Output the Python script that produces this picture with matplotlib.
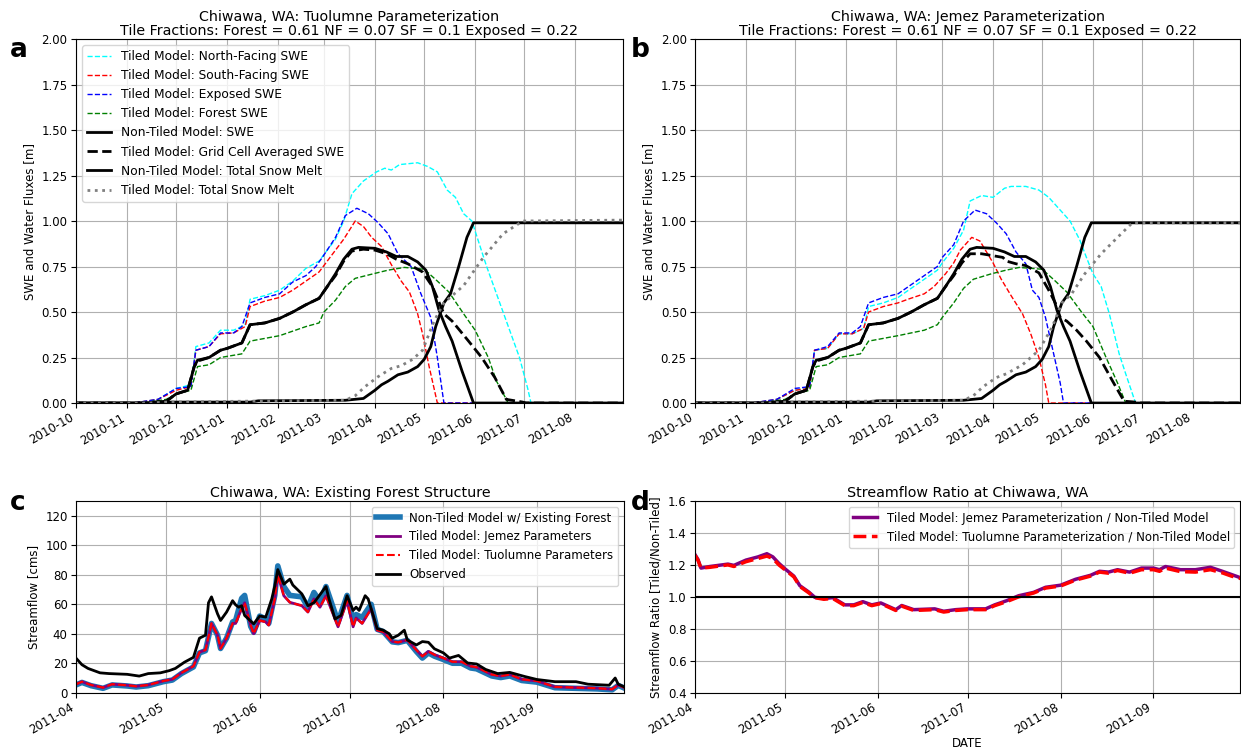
import numpy as np
import pandas as pd
import matplotlib
matplotlib.use('Agg')
import matplotlib.pyplot as plt
import matplotlib.dates as mdates

#Helper: turn 'YYYY-MM-DD' lists into datetimes
def d(lst):
    return pd.to_datetime(lst)

#2011 month-day strings -> dates
def d11(lst):
    return pd.to_datetime(['2011-' + s for s in lst])

# ---------------- Panel a: Tuolumne parameterization ----------------
nf_a_t = ['2010-10-01','2010-11-05','2010-11-20','2010-12-01','2010-12-10','2010-12-13','2010-12-21',
          '2010-12-28','2011-01-05','2011-01-12','2011-01-15','2011-01-24','2011-02-02','2011-02-10',
          '2011-02-18','2011-02-26','2011-03-03','2011-03-08','2011-03-13','2011-03-18','2011-03-25',
          '2011-04-02','2011-04-07','2011-04-11','2011-04-16','2011-04-27','2011-05-03','2011-05-09',
          '2011-05-15','2011-05-20','2011-05-25','2011-05-30','2011-06-08','2011-06-18','2011-06-28',
          '2011-07-03','2011-07-05','2011-08-31']
nf_a = [0, 0, 0.02, 0.08, 0.10, 0.31, 0.33, 0.40, 0.40, 0.43, 0.57, 0.59, 0.62, 0.67, 0.74, 0.78,
        0.84, 0.90, 1.00, 1.15, 1.22, 1.27, 1.29, 1.28, 1.31, 1.32, 1.30, 1.27, 1.17, 1.13, 1.04,
        1.00, 0.75, 0.50, 0.25, 0.08, 0, 0]

sf_a_t = ['2010-10-01','2010-11-05','2010-11-20','2010-12-01','2010-12-10','2010-12-13','2010-12-21',
          '2010-12-28','2011-01-05','2011-01-12','2011-01-15','2011-01-24','2011-02-02','2011-02-10',
          '2011-02-18','2011-02-26','2011-03-03','2011-03-08','2011-03-13','2011-03-20','2011-03-25',
          '2011-03-30','2011-04-05','2011-04-11','2011-04-17','2011-04-22','2011-04-27','2011-04-30',
          '2011-05-04','2011-05-09','2011-08-31']
sf_a = [0, 0, 0.02, 0.07, 0.09, 0.29, 0.31, 0.38, 0.385, 0.42, 0.53, 0.56, 0.58, 0.62, 0.67, 0.72,
        0.78, 0.84, 0.90, 1.00, 0.97, 0.91, 0.86, 0.76, 0.67, 0.61, 0.49, 0.38, 0.20, 0, 0]

ex_a_t = ['2010-10-01','2010-11-05','2010-11-20','2010-12-01','2010-12-10','2010-12-13','2010-12-21',
          '2010-12-28','2011-01-05','2011-01-10','2011-01-15','2011-01-24','2011-02-02','2011-02-10',
          '2011-02-18','2011-02-24','2011-02-28','2011-03-08','2011-03-14','2011-03-21','2011-03-28',
          '2011-04-03','2011-04-09','2011-04-15','2011-04-23','2011-04-29','2011-05-05','2011-05-09',
          '2011-05-13','2011-08-31']
ex_a = [0, 0, 0.02, 0.08, 0.09, 0.29, 0.31, 0.385, 0.385, 0.42, 0.55, 0.58, 0.60, 0.665, 0.70, 0.75,
        0.80, 0.91, 1.03, 1.07, 1.04, 0.99, 0.93, 0.82, 0.75, 0.60, 0.47, 0.25, 0, 0]

fo_a_t = ['2010-10-01','2010-11-10','2010-11-25','2010-12-01','2010-12-10','2010-12-14','2010-12-21',
          '2010-12-28','2011-01-10','2011-01-15','2011-02-02','2011-02-18','2011-02-26','2011-03-01',
          '2011-03-08','2011-03-14','2011-03-20','2011-03-31','2011-04-09','2011-04-19','2011-05-01',
          '2011-05-09','2011-05-16','2011-05-25','2011-06-01','2011-06-09','2011-06-14','2011-06-20',
          '2011-06-21','2011-08-31']
fo_a = [0, 0, 0.02, 0.05, 0.07, 0.20, 0.21, 0.25, 0.27, 0.34, 0.37, 0.42, 0.44, 0.50, 0.565, 0.64,
        0.685, 0.71, 0.73, 0.745, 0.735, 0.67, 0.61, 0.49, 0.40, 0.25, 0.12, 0.02, 0, 0]

avg_a_t = ['2010-10-01','2010-11-12','2010-11-25','2010-12-01','2010-12-08','2010-12-12','2010-12-14',
           '2010-12-21','2010-12-28','2011-01-01','2011-01-10','2011-01-15','2011-01-24','2011-02-02',
           '2011-02-10','2011-02-18','2011-02-26','2011-03-03','2011-03-08','2011-03-13','2011-03-18',
           '2011-03-25','2011-04-01','2011-04-08','2011-04-14','2011-04-21','2011-04-30','2011-05-06',
           '2011-05-13','2011-05-18','2011-05-28','2011-06-05','2011-06-13','2011-06-20','2011-06-30',
           '2011-07-02','2011-08-31']
avg_a = [0, 0, 0.01, 0.05, 0.07, 0.20, 0.23, 0.25, 0.29, 0.30, 0.33, 0.43, 0.44, 0.465, 0.50, 0.54,
         0.575, 0.64, 0.70, 0.78, 0.835, 0.845, 0.84, 0.82, 0.79, 0.765, 0.72, 0.64, 0.49, 0.45,
         0.34, 0.25, 0.14, 0.02, 0.005, 0, 0]

melt_tiled_a_t = ['2010-10-01','2010-11-15','2010-11-25','2011-02-01','2011-03-14','2011-03-20',
                  '2011-03-26','2011-04-03','2011-04-11','2011-04-17','2011-04-24','2011-04-30',
                  '2011-05-07','2011-05-13','2011-05-25','2011-06-06','2011-06-18','2011-06-30',
                  '2011-08-31']
melt_tiled_a = [0, 0, 0.005, 0.012, 0.015, 0.04, 0.09, 0.145, 0.19, 0.205, 0.24, 0.29, 0.45, 0.55,
                0.645, 0.80, 0.93, 1.0, 1.005]

# ---------------- Panel b: Jemez parameterization ----------------
nf_b_t = ['2010-10-01','2010-11-05','2010-11-20','2010-12-01','2010-12-10','2010-12-13','2010-12-21',
          '2010-12-28','2011-01-05','2011-01-12','2011-01-15','2011-01-24','2011-02-02','2011-02-10',
          '2011-02-18','2011-02-26','2011-03-01','2011-03-08','2011-03-14','2011-03-18','2011-03-25',
          '2011-04-01','2011-04-08','2011-04-12','2011-04-21','2011-04-29','2011-05-05','2011-05-12',
          '2011-05-18','2011-05-24','2011-05-28','2011-06-01','2011-06-06','2011-06-11','2011-06-17',
          '2011-06-21','2011-06-27','2011-08-31']
nf_b = [0, 0, 0.02, 0.07, 0.09, 0.29, 0.30, 0.38, 0.38, 0.41, 0.53, 0.55, 0.58, 0.63, 0.68, 0.73,
        0.77, 0.85, 0.95, 1.11, 1.14, 1.13, 1.18, 1.19, 1.19, 1.17, 1.13, 1.06, 1.00, 0.895, 0.80,
        0.71, 0.64, 0.49, 0.27, 0.16, 0, 0]

sf_b_t = ['2010-10-01','2010-11-05','2010-11-20','2010-12-01','2010-12-10','2010-12-13','2010-12-21',
          '2010-12-28','2011-01-05','2011-01-12','2011-01-15','2011-01-24','2011-02-02','2011-02-08',
          '2011-02-18','2011-02-24','2011-03-03','2011-03-08','2011-03-12','2011-03-19','2011-03-24',
          '2011-04-01','2011-04-06','2011-04-12','2011-04-19','2011-04-24','2011-04-29','2011-05-03',
          '2011-05-05','2011-08-31']
sf_b = [0, 0, 0.02, 0.07, 0.08, 0.29, 0.30, 0.38, 0.38, 0.41, 0.50, 0.53, 0.55, 0.57, 0.60, 0.64,
        0.71, 0.77, 0.84, 0.91, 0.89, 0.77, 0.68, 0.59, 0.49, 0.38, 0.25, 0.10, 0, 0]

ex_b_t = ['2010-10-01','2010-11-05','2010-11-20','2010-12-01','2010-12-10','2010-12-13','2010-12-21',
          '2010-12-28','2011-01-05','2011-01-10','2011-01-15','2011-01-24','2011-02-02','2011-02-10',
          '2011-02-18','2011-02-26','2011-03-01','2011-03-08','2011-03-14','2011-03-21','2011-03-28',
          '2011-04-03','2011-04-09','2011-04-15','2011-04-21','2011-04-25','2011-04-29','2011-05-03',
          '2011-05-08','2011-05-12','2011-05-14','2011-08-31']
ex_b = [0, 0, 0.02, 0.08, 0.09, 0.29, 0.31, 0.385, 0.385, 0.42, 0.55, 0.58, 0.60, 0.65, 0.70, 0.75,
        0.80, 0.87, 1.00, 1.06, 1.04, 0.99, 0.93, 0.83, 0.765, 0.62, 0.58, 0.47, 0.27, 0.11, 0, 0]

fo_b_t = ['2010-10-01','2010-11-10','2010-11-25','2010-12-01','2010-12-10','2010-12-14','2010-12-21',
          '2010-12-28','2011-01-10','2011-01-15','2011-02-02','2011-02-18','2011-02-26','2011-03-01',
          '2011-03-08','2011-03-14','2011-03-20','2011-03-31','2011-04-09','2011-04-17','2011-05-01',
          '2011-05-09','2011-05-16','2011-05-25','2011-06-01','2011-06-09','2011-06-16','2011-06-21',
          '2011-08-31']
fo_b = [0, 0, 0.02, 0.05, 0.07, 0.20, 0.21, 0.25, 0.27, 0.34, 0.37, 0.40, 0.43, 0.47, 0.55, 0.63,
        0.68, 0.71, 0.73, 0.745, 0.735, 0.67, 0.61, 0.50, 0.42, 0.25, 0.11, 0, 0]

avg_b_t = ['2010-10-01','2010-11-12','2010-11-25','2010-12-01','2010-12-08','2010-12-12','2010-12-14',
           '2010-12-21','2010-12-28','2011-01-01','2011-01-10','2011-01-15','2011-01-24','2011-02-02',
           '2011-02-10','2011-02-18','2011-02-26','2011-03-03','2011-03-08','2011-03-13','2011-03-18',
           '2011-03-25','2011-04-07','2011-04-09','2011-04-15','2011-04-21','2011-04-29','2011-05-05',
           '2011-05-09','2011-05-12','2011-05-16','2011-05-22','2011-05-28','2011-06-05','2011-06-13',
           '2011-06-20','2011-06-27','2011-06-29','2011-08-31']
avg_b = [0, 0, 0.01, 0.05, 0.07, 0.20, 0.23, 0.25, 0.29, 0.30, 0.33, 0.43, 0.44, 0.465, 0.50, 0.54,
         0.575, 0.64, 0.70, 0.77, 0.82, 0.82, 0.80, 0.78, 0.765, 0.755, 0.715, 0.62, 0.55, 0.47,
         0.45, 0.40, 0.34, 0.25, 0.12, 0.01, 0.005, 0, 0]

melt_tiled_b_t = ['2010-10-01','2010-11-15','2010-11-25','2011-02-01','2011-03-14','2011-03-20',
                  '2011-03-26','2011-04-03','2011-04-09','2011-04-19','2011-04-29','2011-05-07',
                  '2011-05-13','2011-05-19','2011-05-27','2011-06-06','2011-06-16','2011-06-25',
                  '2011-08-31']
melt_tiled_b = [0, 0, 0.005, 0.012, 0.015, 0.04, 0.09, 0.14, 0.16, 0.21, 0.29, 0.415, 0.55, 0.60,
                0.71, 0.82, 0.91, 0.99, 0.99]

# ---------------- Non-tiled model (same in a and b) ----------------
swe_nt_t = ['2010-10-01','2010-11-12','2010-11-25','2010-12-01','2010-12-08','2010-12-12','2010-12-14',
            '2010-12-21','2010-12-28','2011-01-01','2011-01-10','2011-01-15','2011-01-24','2011-02-02',
            '2011-02-10','2011-02-18','2011-02-26','2011-03-03','2011-03-08','2011-03-13','2011-03-18',
            '2011-03-22','2011-04-01','2011-04-08','2011-04-14','2011-04-21','2011-04-27','2011-05-02',
            '2011-05-06','2011-05-10','2011-05-14','2011-05-18','2011-05-24','2011-05-31','2011-08-31']
swe_nt = [0, 0, 0.01, 0.05, 0.07, 0.20, 0.235, 0.25, 0.29, 0.30, 0.33, 0.43, 0.44, 0.465, 0.50, 0.54,
          0.575, 0.64, 0.71, 0.79, 0.845, 0.855, 0.85, 0.83, 0.805, 0.805, 0.775, 0.73, 0.64, 0.51,
          0.42, 0.34, 0.176, 0, 0]

melt_nt_t = ['2010-10-01','2010-11-15','2010-11-25','2011-01-15','2011-01-20','2011-03-14','2011-03-25',
             '2011-04-01','2011-04-05','2011-04-09','2011-04-15','2011-04-21','2011-04-27','2011-05-01',
             '2011-05-05','2011-05-08','2011-05-13','2011-05-17','2011-05-22','2011-05-27','2011-05-31',
             '2011-08-31']
melt_nt = [0, 0, 0.005, 0.005, 0.012, 0.015, 0.025, 0.07, 0.10, 0.12, 0.155, 0.17, 0.20, 0.24, 0.31,
           0.42, 0.55, 0.60, 0.75, 0.91, 0.99, 0.99]

# ---------------- Panel c: streamflow [cms] ----------------
obs_t = ['04-01','04-03','04-05','04-09','04-12','04-18','04-22','04-25','04-29','05-02','05-04',
         '05-07','05-10','05-12','05-14','05-15','05-16','05-18','05-19','05-21','05-23','05-24',
         '05-25','05-26','05-27','05-30','06-01','06-03','06-05','06-06','06-07','06-09','06-11',
         '06-12','06-15','06-17','06-19','06-23','06-24','06-26','06-28','06-30','07-02','07-03',
         '07-04','07-06','07-07','07-10','07-12','07-14','07-15','07-17','07-19','07-20','07-23',
         '07-25','07-27','07-29','08-01','08-03','08-06','08-09','08-12','08-15','08-19','08-23',
         '08-28','09-01','09-07','09-14','09-18','09-25','09-27','09-28','09-30']
obs_q = [23.5, 19, 16.5, 13.5, 13, 12.5, 11.3, 13, 13.5, 15, 16.5, 20.7, 24, 37, 39, 61, 65, 53.5, 49,
         54.7, 62.4, 59.6, 58, 59, 52.4, 46.7, 52, 51.3, 63.6, 72.4, 83.5, 73.6, 77, 73, 67, 59, 61,
         72, 63.6, 50, 52.4, 65.8, 55.8, 58, 55.8, 65.8, 63.6, 43.5, 42.4, 40, 37, 39, 42.4, 35.8,
         32.4, 34.7, 34.2, 29.8, 27, 23.5, 25.3, 20.2, 19.5, 15.8, 13, 13.8, 11, 9, 7.5, 7.5, 5.8,
         5.1, 10, 5.8, 4]

mod_t = ['04-01','04-03','04-06','04-10','04-13','04-18','04-21','04-25','04-30','05-03','05-06',
         '05-10','05-12','05-14','05-16','05-18','05-19','05-21','05-23','05-24','05-26','05-27',
         '05-29','05-30','06-01','06-03','06-04','06-06','06-07','06-09','06-11','06-15','06-17',
         '06-19','06-21','06-23','06-27','06-30','07-02','07-03','07-05','07-08','07-10','07-12',
         '07-15','07-17','07-20','07-23','07-25','07-27','07-29','08-01','08-04','08-07','08-10',
         '08-12','08-17','08-20','08-23','08-27','09-01','09-07','09-14','09-21','09-26','09-28',
         '09-30']
nontiled_q = [5.3, 7, 4.8, 3, 5.3, 4.6, 3.9, 4.8, 7.5, 8.6, 13, 17.5, 27, 28.5, 47, 39, 30, 37, 48,
              49, 64, 66, 45, 41, 52, 50, 47, 66, 86, 72, 66, 65, 58, 68, 62, 72, 48, 66, 49, 53,
              51, 60, 43, 41.5, 34.5, 34, 35.5, 28, 23.5, 27, 24.8, 22.5, 20, 20, 16.8, 16.2, 11.4,
              10.3, 11.4, 8.3, 7.2, 3.4, 3, 2.6, 2, 5, 3.2]
jemez_q = [5.8, 7.5, 5.3, 3.5, 5.8, 5.1, 4.4, 5.3, 8, 9.1, 13.5, 18, 27.5, 29, 47, 39, 30, 37, 47, 47,
           57, 61, 45.8, 40, 49, 48, 45.8, 63.6, 80, 65.8, 61.3, 59, 54.7, 63.6, 58, 65.8, 44.7,
           62.4, 44.7, 50.7, 47, 57, 42.4, 41.3, 34.7, 34.2, 35.8, 29, 24.7, 28, 25.8, 23.5, 21,
           21, 18, 17.3, 12.4, 11.3, 12.4, 9.1, 8, 4, 3.5, 3.1, 2.4, 5.3, 3.5]
tuolumne_q = [5.8, 7.5, 5.3, 3.5, 5.8, 5.1, 4.4, 5.3, 8, 9.1, 13.5, 18, 27.5, 29, 47, 39, 30, 37, 47, 47,
              57, 61, 45.8, 40, 49, 48, 45.8, 63.6, 80, 65.8, 61.3, 59, 54.7, 63.6, 58, 65.8, 44.7,
              62.4, 44.7, 50.7, 47, 57, 42.4, 41.3, 34.7, 34.2, 35.8, 29, 24.7, 28, 25.8, 23.5, 21,
              21, 18, 17.3, 12.4, 11.3, 12.4, 9.1, 8, 4, 3.5, 3.1, 2.4, 5.3, 3.5]

# ---------------- Panel d: streamflow ratio ----------------
ratio_t = ['04-01','04-02','04-03','04-06','04-10','04-12','04-14','04-18','04-22','04-25','04-27',
           '04-29','05-01','05-04','05-06','05-09','05-11','05-14','05-17','05-21','05-24','05-27',
           '05-30','06-02','06-07','06-09','06-13','06-20','06-23','06-27','07-01','07-07','07-10',
           '07-14','07-18','07-23','07-27','08-01','08-06','08-11','08-14','08-17','08-20','08-24',
           '08-28','09-01','09-03','09-05','09-10','09-15','09-20','09-24','09-27','09-30']
ratio_jemez = [1.265, 1.234, 1.18, 1.19, 1.20, 1.205, 1.197, 1.23, 1.25, 1.27, 1.25, 1.21, 1.176,
               1.13, 1.07, 1.03, 0.997, 0.99, 0.995, 0.95, 0.95, 0.97, 0.95, 0.962, 0.92, 0.946,
               0.92, 0.925, 0.91, 0.92, 0.925, 0.925, 0.95, 0.976, 1.007, 1.028, 1.06, 1.073, 1.11,
               1.135, 1.16, 1.155, 1.17, 1.155, 1.18, 1.18, 1.17, 1.19, 1.17, 1.17, 1.185, 1.16,
               1.14, 1.12]
ratio_tuol = [1.26, 1.23, 1.18, 1.185, 1.195, 1.20, 1.19, 1.22, 1.24, 1.255, 1.24, 1.20, 1.17,
              1.125, 1.065, 1.025, 0.995, 0.985, 0.99, 0.945, 0.945, 0.965, 0.945, 0.958, 0.915,
              0.942, 0.915, 0.92, 0.905, 0.915, 0.92, 0.92, 0.945, 0.97, 1.0, 1.024, 1.055, 1.068,
              1.105, 1.13, 1.155, 1.148, 1.165, 1.148, 1.17, 1.17, 1.16, 1.18, 1.158, 1.155, 1.17,
              1.15, 1.13, 1.115]

# ---------------- Figure ----------------
plt.rcParams['font.family'] = 'DejaVu Sans'
fig = plt.figure(figsize=(12.41, 7.53), dpi=100)
ax_a = fig.add_axes([0.0612, 0.4648, 0.4408, 0.4834])
ax_b = fig.add_axes([0.5600, 0.4648, 0.4395, 0.4834])
ax_c = fig.add_axes([0.0612, 0.0800, 0.4418, 0.2547])
ax_d = fig.add_axes([0.5600, 0.0800, 0.4395, 0.2547])

def swe_panel(ax, nf, sf, ex, fo, avg, melt_t, title):
    ax.plot(d(nf[0]), nf[1], '--', color='cyan', lw=1, label='Tiled Model: North-Facing SWE')
    ax.plot(d(sf[0]), sf[1], '--', color='red', lw=1, label='Tiled Model: South-Facing SWE')
    ax.plot(d(ex[0]), ex[1], '--', color='blue', lw=1, label='Tiled Model: Exposed SWE')
    ax.plot(d(fo[0]), fo[1], '--', color='green', lw=1, label='Tiled Model: Forest SWE')
    ax.plot(d(swe_nt_t), swe_nt, '-', color='k', lw=2, label='Non-Tiled Model: SWE')
    ax.plot(d(avg[0]), avg[1], '--', color='k', lw=2, label='Tiled Model: Grid Cell Averaged SWE')
    ax.plot(d(melt_nt_t), melt_nt, '-', color='k', lw=2, label='Non-Tiled Model: Total Snow Melt')
    ax.plot(d(melt_t[0]), melt_t[1], ':', color='gray', lw=2, label='Tiled Model: Total Snow Melt')
    ax.set_xlim(pd.Timestamp('2010-10-01'), pd.Timestamp('2011-08-30'))
    ax.set_ylim(0, 2)
    ax.set_yticks(np.arange(0, 2.01, 0.25))
    ax.yaxis.set_major_formatter(matplotlib.ticker.FormatStrFormatter('%.2f'))
    ax.set_ylabel('SWE and Water Fluxes [m]', fontsize=8.5)
    ax.set_title(title, fontsize=10.3, pad=3, linespacing=1.0)
    ax.grid(True, color='#b0b0b0', lw=0.8)

swe_panel(ax_a, (nf_a_t, nf_a), (sf_a_t, sf_a), (ex_a_t, ex_a), (fo_a_t, fo_a),
          (avg_a_t, avg_a), (melt_tiled_a_t, melt_tiled_a),
          'Chiwawa, WA: Tuolumne Parameterization\nTile Fractions: Forest = 0.61 NF = 0.07 SF = 0.1 Exposed = 0.22')
swe_panel(ax_b, (nf_b_t, nf_b), (sf_b_t, sf_b), (ex_b_t, ex_b), (fo_b_t, fo_b),
          (avg_b_t, avg_b), (melt_tiled_b_t, melt_tiled_b),
          'Chiwawa, WA: Jemez Parameterization\nTile Fractions: Forest = 0.61 NF = 0.07 SF = 0.1 Exposed = 0.22')
ax_a.legend(loc='upper left', fontsize=8.8)

#Streamflow
ax_c.plot(d11(mod_t), nontiled_q, color='#1f77b4', lw=4, label='Non-Tiled Model w/ Existing Forest')
ax_c.plot(d11(mod_t), jemez_q, color='purple', lw=2, label='Tiled Model: Jemez Parameters')
ax_c.plot(d11(mod_t), tuolumne_q, '--', color='red', lw=1.5, label='Tiled Model: Tuolumne Parameters')
ax_c.plot(d11(obs_t), obs_q, color='k', lw=2, label='Observed')
ax_c.set_xlim(pd.Timestamp('2011-04-01'), pd.Timestamp('2011-09-30'))
ax_c.set_ylim(0, 130)
ax_c.set_yticks(np.arange(0, 121, 20))
ax_c.set_ylabel('Streamflow [cms]', fontsize=8.5)
ax_c.set_title('Chiwawa, WA: Existing Forest Structure', fontsize=10.3, pad=3)
ax_c.grid(True, color='#b0b0b0', lw=0.8)
ax_c.legend(loc='upper right', fontsize=8.5)

#Ratio
ax_d.plot(d11(ratio_t), ratio_jemez, color='purple', lw=2.5,
          label='Tiled Model: Jemez Parameterization / Non-Tiled Model')
ax_d.plot(d11(ratio_t), ratio_tuol, '--', color='red', lw=2.5,
          label='Tiled Model: Tuolumne Parameterization / Non-Tiled Model')
ax_d.axhline(1.0, color='k', lw=1.5)
ax_d.set_xlim(pd.Timestamp('2011-04-01'), pd.Timestamp('2011-09-30'))
ax_d.set_ylim(0.4, 1.6)
ax_d.set_yticks(np.arange(0.4, 1.61, 0.2))
ax_d.set_ylabel('Streamflow Ratio [Tiled/Non-Tiled]', fontsize=8.5)
ax_d.set_xlabel('DATE', fontsize=8.5, labelpad=0)
ax_d.set_title('Streamflow Ratio at Chiwawa, WA', fontsize=10.3, pad=3)
ax_d.grid(True, color='#b0b0b0', lw=0.8)
ax_d.legend(loc='upper right', fontsize=8.5)

for ax in (ax_a, ax_b, ax_c, ax_d):
    ax.xaxis.set_major_locator(mdates.MonthLocator())
    ax.xaxis.set_major_formatter(mdates.DateFormatter('%Y-%m'))
    ax.tick_params(labelsize=8.5, pad=2.5)
    for lbl in ax.get_xticklabels():
        lbl.set_rotation(30)
        lbl.set_ha('right')

for x, y, s in [(0.008, 0.924, 'a'), (0.508, 0.924, 'b'), (0.008, 0.323, 'c'), (0.508, 0.323, 'd')]:
    fig.text(x, y, s, fontsize=19, fontweight='bold')

fig.savefig('out.png', dpi=100)
